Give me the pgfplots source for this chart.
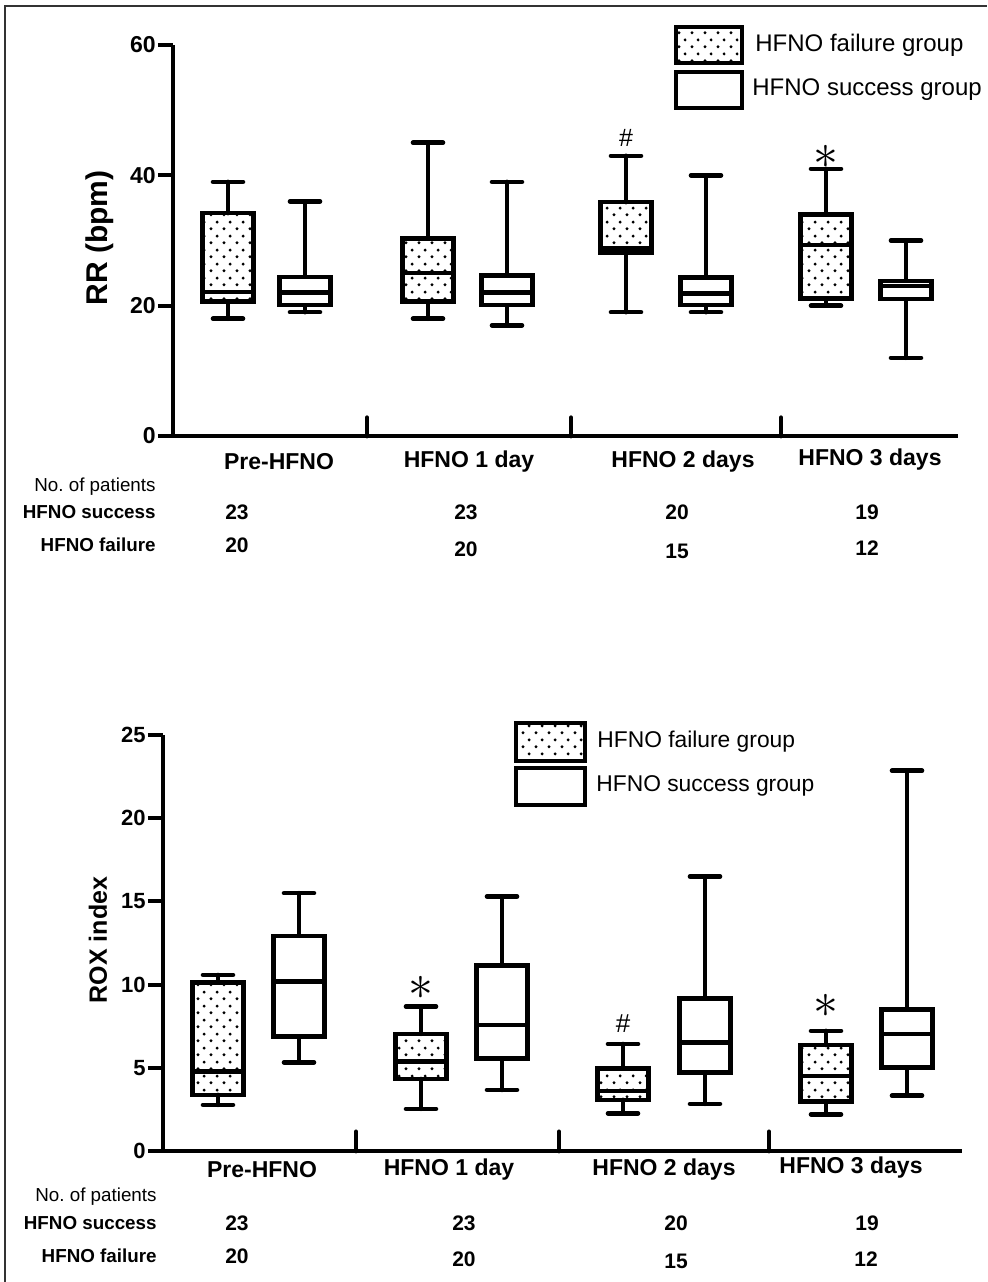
\documentclass[border=0pt]{standalone}
\usepackage{fontspec}
\setmainfont{Liberation Sans}
\usepackage{pgfplots}
\pgfplotsset{compat=1.18}
\usepgfplotslibrary{statistics}
\usetikzlibrary{patterns.meta}

\tikzdeclarepattern{
  name=sparsedots,
  type=uncolored,
  bounding box={(0pt,0pt) and (6.5pt,7pt)},
  tile size={(6.5pt,7pt)},
  code={
    \fill (1.6pt,1.75pt) circle (0.85pt);
    \fill (4.85pt,5.25pt) circle (0.85pt);
  }
}
\newcommand{\fs}[1]{\fontsize{#1}{#1}\selectfont}
\tikzset{sepline/.style={line width=2.4pt, line cap=round}}

\pgfplotsset{
  myaxis/.style={
    scale only axis, axis lines=left, axis line style={-, line width=2.4pt},
    xtick=\empty, tick align=outside, major tick length=7.5pt,
    ytick style={line width=2pt, black},
    /pgf/number format/assume math mode=true,
    clip=false, xmin=0, ymin=0,
    boxplot/draw direction=y,
    boxplot/box extend=0.255,
    boxplot/whisker extend=0.15,
  },
  fail/.style={black, line width=2.3pt, line cap=round, pattern={sparsedots}, pattern color=black},
  succ/.style={black, line width=2.3pt, line cap=round, fill=white},
}

\begin{document}
\begin{tikzpicture}
\path[use as bounding box] (0,0) rectangle (493.5pt,-641pt);
\draw[line width=0.8pt, black!80] (2.5pt,-641pt) -- (2.5pt,-3pt) -- (493.5pt,-3pt);

% ---------------- Top panel: RR ----------------
\begin{axis}[myaxis, at={(86.5pt,-218pt)}, anchor=south west,
  width=392.5pt, height=195.5pt, xmax=3.925, ymax=60, ytick={0,20,40,60},
  yticklabel style={font=\bfseries\fs{11.5}, inner sep=1pt}]
\addplot[fail, boxplot prepared={draw position=0.275, lower whisker=18, lower quartile=20.6, median=22.1, upper quartile=34.2, upper whisker=39}] coordinates {};
\addplot[succ, boxplot prepared={draw position=0.66, lower whisker=19, lower quartile=20.1, median=22.0, upper quartile=24.4, upper whisker=36}] coordinates {};
\addplot[fail, boxplot prepared={draw position=1.275, lower whisker=18, lower quartile=20.6, median=25.0, upper quartile=30.3, upper whisker=45}] coordinates {};
\addplot[succ, boxplot prepared={draw position=1.67, lower whisker=17, lower quartile=20.1, median=22.0, upper quartile=24.6, upper whisker=39}] coordinates {};
\addplot[fail, boxplot prepared={draw position=2.265, lower whisker=19, lower quartile=28.1, median=28.8, upper quartile=35.9, upper whisker=43}] coordinates {};
\addplot[succ, boxplot prepared={draw position=2.665, lower whisker=19, lower quartile=20.1, median=21.9, upper quartile=24.3, upper whisker=40}] coordinates {};
\addplot[fail, boxplot prepared={draw position=3.265, lower whisker=20, lower quartile=21.1, median=29.3, upper quartile=34.0, upper whisker=41}] coordinates {};
\addplot[succ, boxplot prepared={draw position=3.665, lower whisker=12, lower quartile=21.0, median=23.0, upper quartile=23.8, upper whisker=30}] coordinates {};
\draw[sepline] (axis cs:0.97,0) -- (axis cs:0.97,2.8);
\draw[sepline] (axis cs:1.99,0) -- (axis cs:1.99,2.8);
\draw[sepline] (axis cs:3.04,0) -- (axis cs:3.04,2.8);
\node[font=\fs{12.5}] at (axis cs:2.265,45.7) {\#};
\node[font=\fs{25}, inner sep=0pt] at (axis cs:3.265,42.8) {$\ast$};
\end{axis}

% ---------------- Bottom panel: ROX ----------------
\begin{axis}[myaxis, at={(81.5pt,-575.5pt)}, anchor=south west,
  width=399.5pt, height=208pt, xmax=3.995, ymax=25, ytick={0,5,10,15,20,25},
  yticklabel style={font=\bfseries\fs{11}, inner sep=1pt}]
\addplot[fail, boxplot prepared={draw position=0.275, lower whisker=2.77, lower quartile=3.37, median=4.77, upper quartile=10.14, upper whisker=10.58}] coordinates {};
\addplot[succ, boxplot prepared={draw position=0.68, lower whisker=5.33, lower quartile=6.87, median=10.18, upper quartile=12.93, upper whisker=15.5}] coordinates {};
\addplot[fail, boxplot prepared={draw position=1.29, lower whisker=2.53, lower quartile=4.33, median=5.37, upper quartile=7.04, upper whisker=8.68}] coordinates {};
\addplot[succ, boxplot prepared={draw position=1.695, lower whisker=3.67, lower quartile=5.57, median=7.58, upper quartile=11.14, upper whisker=15.3}] coordinates {};
\addplot[fail, boxplot prepared={draw position=2.30, lower whisker=2.27, lower quartile=3.07, median=3.6, upper quartile=4.97, upper whisker=6.43}] coordinates {};
\addplot[succ, boxplot prepared={draw position=2.71, lower whisker=2.83, lower quartile=4.71, median=6.51, upper quartile=9.18, upper whisker=16.5}] coordinates {};
\addplot[fail, boxplot prepared={draw position=3.315, lower whisker=2.2, lower quartile=2.97, median=4.51, upper quartile=6.37, upper whisker=7.22}] coordinates {};
\addplot[succ, boxplot prepared={draw position=3.72, lower whisker=3.33, lower quartile=5.01, median=7.04, upper quartile=8.52, upper whisker=22.85}] coordinates {};
\draw[sepline] (axis cs:0.965,0) -- (axis cs:0.965,1.15);
\draw[sepline] (axis cs:1.98,0) -- (axis cs:1.98,1.15);
\draw[sepline] (axis cs:3.03,0) -- (axis cs:3.03,1.15);
\node[font=\fs{25}, inner sep=0pt] at (axis cs:1.29,9.8) {$\ast$};
\node[font=\fs{13}] at (axis cs:2.30,7.68) {\#};
\node[font=\fs{25}, inner sep=0pt] at (axis cs:3.315,8.7) {$\ast$};
\end{axis}

% ---------------- Text and legends (pixel coordinates) ----------------
\begin{scope}[x=0.5pt, y=-0.5pt]
% top
\node[rotate=90, font=\bfseries\fs{15}] at (100,238) {RR (bpm)};
\begin{scope}[every node/.style={font=\bfseries\fs{11.5}, inner sep=0pt}]
\node at (279,462) {Pre-HFNO};
\node at (469,462) {HFNO 1 day};
\node at (683,462) {HFNO 2 days};
\node at (870,460) {HFNO 3 days};
\end{scope}
\node[anchor=east, inner sep=0pt, font=\fs{9.4}] at (156,487) {No.\ of patients};
\node[anchor=east, inner sep=0pt, font=\bfseries\fs{9.4}] at (156,512) {HFNO success};
\node[anchor=east, inner sep=0pt, font=\bfseries\fs{9.4}] at (156,545) {HFNO failure};
\begin{scope}[every node/.style={font=\bfseries\fs{10.5}, inner sep=0pt}]
\node at (237,512) {23};
\node at (466,512) {23};
\node at (677,512) {20};
\node at (867,512) {19};
\node at (237,545) {20};
\node at (466,549) {20};
\node at (677,551) {15};
\node at (867,548) {12};
\end{scope}
\draw[line width=2.4pt, pattern={sparsedots}, pattern color=black] (676,27) rectangle (742,63);
\draw[line width=2.4pt] (676,72) rectangle (742,108);
\node[anchor=west, inner sep=0pt, font=\fs{12}] at (755,45) {HFNO failure group};
\node[anchor=west, inner sep=0pt, font=\fs{12}] at (752,90) {HFNO success group};
% bottom
\node[rotate=90, font=\bfseries\fs{12.5}] at (98,940) {ROX index};
\begin{scope}[every node/.style={font=\bfseries\fs{11.5}, inner sep=0pt}]
\node at (262,1170) {Pre-HFNO};
\node at (449,1170) {HFNO 1 day};
\node at (664,1170) {HFNO 2 days};
\node at (851,1168) {HFNO 3 days};
\end{scope}
\node[anchor=east, inner sep=0pt, font=\fs{9.4}] at (157,1197) {No.\ of patients};
\node[anchor=east, inner sep=0pt, font=\bfseries\fs{9.4}] at (157,1223) {HFNO success};
\node[anchor=east, inner sep=0pt, font=\bfseries\fs{9.4}] at (157,1256) {HFNO failure};
\begin{scope}[every node/.style={font=\bfseries\fs{10.5}, inner sep=0pt}]
\node at (237,1223) {23};
\node at (464,1223) {23};
\node at (676,1223) {20};
\node at (867,1223) {19};
\node at (237,1256) {20};
\node at (464,1259) {20};
\node at (676,1261) {15};
\node at (866,1259) {12};
\end{scope}
\draw[line width=2.4pt, pattern={sparsedots}, pattern color=black] (516,723) rectangle (585,761);
\draw[line width=2.4pt] (516,768) rectangle (585,805);
\node[anchor=west, inner sep=0pt, font=\fs{11.4}] at (597,742) {HFNO failure group};
\node[anchor=west, inner sep=0pt, font=\fs{11.4}] at (596,786) {HFNO success group};
\end{scope}
\end{tikzpicture}
\end{document}
